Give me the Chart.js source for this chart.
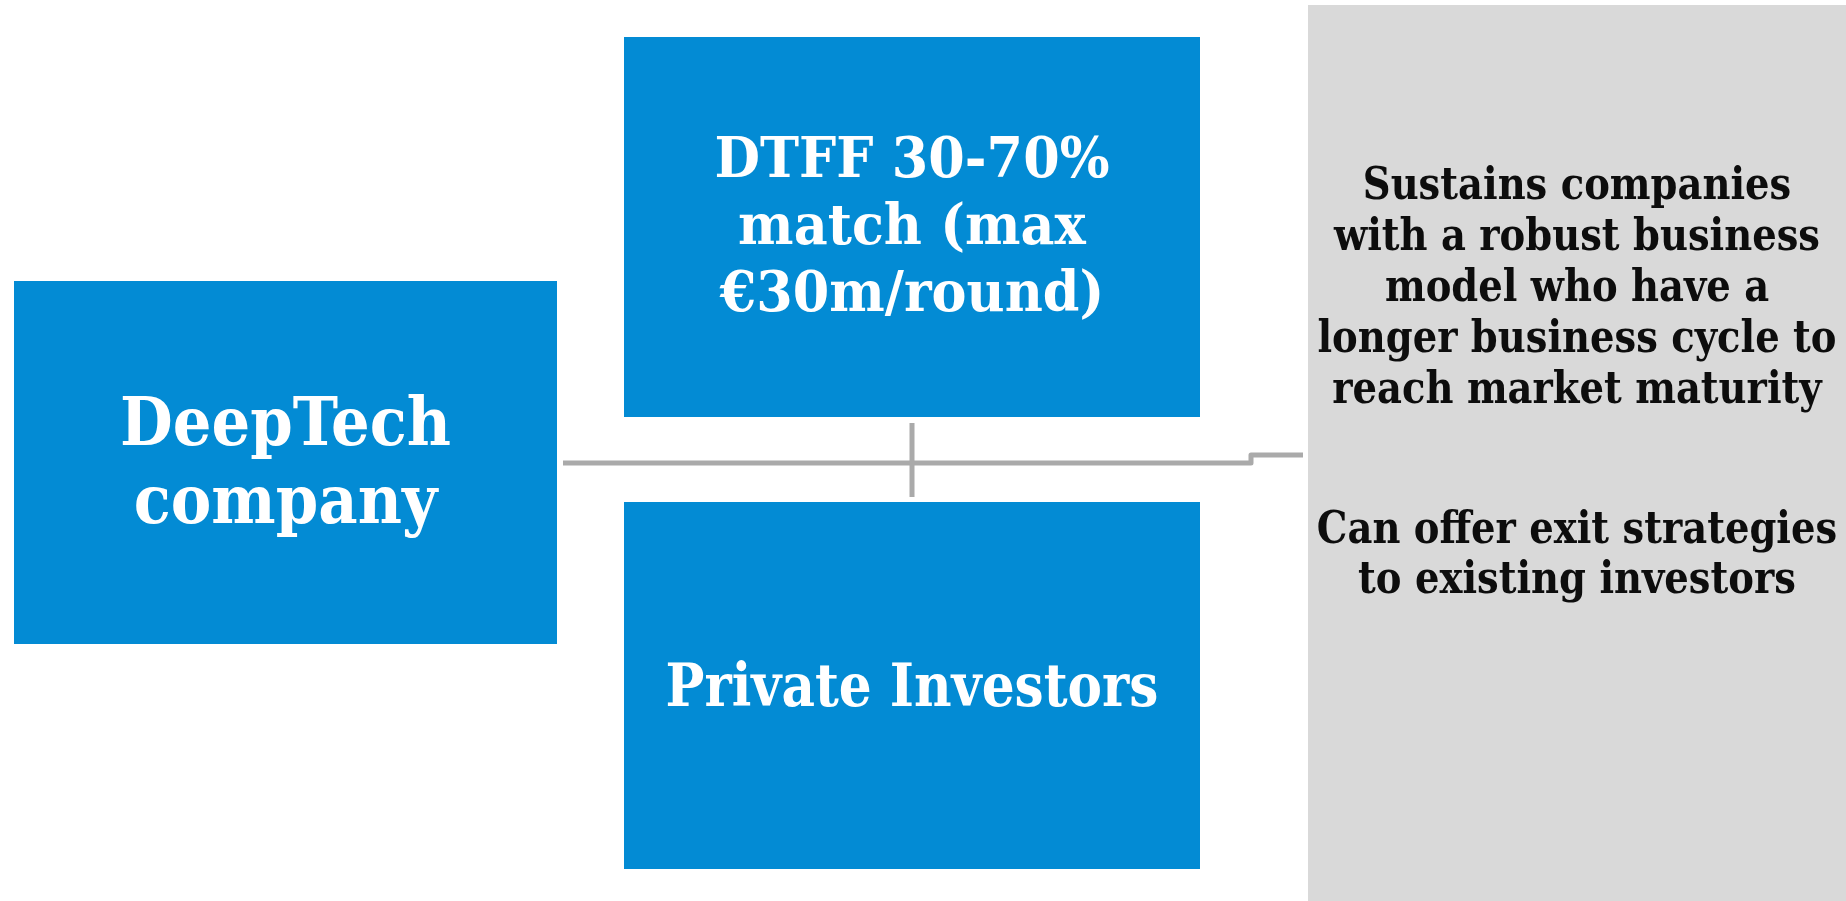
<!DOCTYPE html>
<html><head><meta charset="utf-8">
<script src="https://cdn.jsdelivr.net/npm/chart.js@4/dist/chart.umd.min.js"></script>
<style>html,body{margin:0;padding:0;background:#fff;overflow:hidden}#wrap{width:1846px;height:901px;position:relative}</style>
</head><body><div id="wrap"><canvas id="c"></canvas></div>
<script>
// ---- diagram data (diagram units on a 1846 x 901 grid) ----
const nodeNames  = ['Benefits', 'DeepTech company', 'DTFF match', 'Private Investors'];
const nodeLeft   = [1308, 14, 624, 624];
const nodeRight  = [1846, 557, 1200, 1200];
const nodeTop    = [5, 281, 37, 502];
const nodeBottom = [901, 644, 417, 869];
const nodeLines  = [
  ['Sustains companies', 'with a robust business', 'model who have a', 'longer business cycle to', 'reach market maturity',
   'Can offer exit strategies', 'to existing investors'],
  ['DeepTech', 'company'],
  ['DTFF 30-70%', 'match (max', '€30m/round)'],
  ['Private Investors']
];
const linkMainX = [563, 1251, 1251, 1303];
const linkMainY = [463, 463, 455, 455];
const linkStemX = [912, 912];
const linkStemY = [423, 497];

// ---- styles / text layout ----
const nodeFill  = ['#d9d9d9', '#038bd4', '#038bd4', '#038bd4'];
const nodeFont  = ['bold 44px "DejaVu Serif"', 'bold 68px "DejaVu Serif"', 'bold 56px "DejaVu Serif"', 'bold 59px "DejaVu Serif"'];
const nodeInk   = ['#0d0d0d', '#ffffff', '#ffffff', '#ffffff'];
const nodeFitLine  = [3, 0, 0, 0];          // line used to fit the text width
const nodeFitWidth = [519, 331, 395, 493];  // rendered width of that line
const nodeBaselines = [
  [199, 250, 301, 352, 403, 543, 593],
  [445, 523],
  [177, 244, 311],
  [706]
];
const linkColor = '#aaaaaa';

const datasets = [];
nodeNames.forEach((n, i) => {
  datasets.push({
    label: n,
    data: [
      {x: nodeLeft[i], y: nodeTop[i]},
      {x: nodeRight[i], y: nodeTop[i]},
      {x: nodeRight[i], y: nodeBottom[i]},
      {x: nodeLeft[i], y: nodeBottom[i]},
      {x: nodeLeft[i], y: nodeTop[i]}
    ],
    showLine: true, fill: 'shape', backgroundColor: nodeFill[i],
    borderColor: 'rgba(0,0,0,0)', borderWidth: 1, pointRadius: 0, tension: 0, clip: false
  });
});
datasets.push({
  label: 'link', data: linkMainX.map((x, k) => ({x, y: linkMainY[k]})),
  showLine: true, fill: false, borderColor: linkColor, borderWidth: 5, pointRadius: 0, tension: 0,
  borderJoinStyle: 'round', borderCapStyle: 'butt', clip: false
});
datasets.push({
  label: 'stem', data: linkStemX.map((x, k) => ({x, y: linkStemY[k]})),
  showLine: true, fill: false, borderColor: linkColor, borderWidth: 5, pointRadius: 0, tension: 0,
  borderCapStyle: 'butt', clip: false
});

const textPlugin = {
  id: 'nodeText',
  afterDatasetsDraw(chart) {
    const {ctx, scales: {x, y}} = chart;
    nodeNames.forEach((n, i) => {
      const cx = x.getPixelForValue((nodeLeft[i] + nodeRight[i]) / 2);
      ctx.save();
      ctx.textAlign = 'center';
      ctx.textBaseline = 'alphabetic';
      ctx.font = nodeFont[i];
      ctx.fillStyle = nodeInk[i];
      const w = ctx.measureText(nodeLines[i][nodeFitLine[i]]).width;
      const sx = nodeFitWidth[i] / w;
      nodeLines[i].forEach((t, k) => {
        const by = y.getPixelForValue(nodeBaselines[i][k]);
        ctx.save();
        ctx.translate(cx, by);
        ctx.scale(sx, 1);
        ctx.fillText(t, 0, 0);
        ctx.restore();
      });
      ctx.restore();
    });
  }
};

new Chart(document.getElementById('c'), {
  type: 'scatter',
  data: {datasets},
  options: {
    responsive: true, maintainAspectRatio: false, animation: false, events: [],
    layout: {padding: 0},
    plugins: {legend: {display: false}, tooltip: {enabled: false}},
    scales: {
      x: {type: 'linear', min: 0, max: 1846, display: false},
      y: {type: 'linear', min: 0, max: 901, reverse: true, display: false}
    }
  },
  plugins: [textPlugin]
});
</script>
</body></html>
